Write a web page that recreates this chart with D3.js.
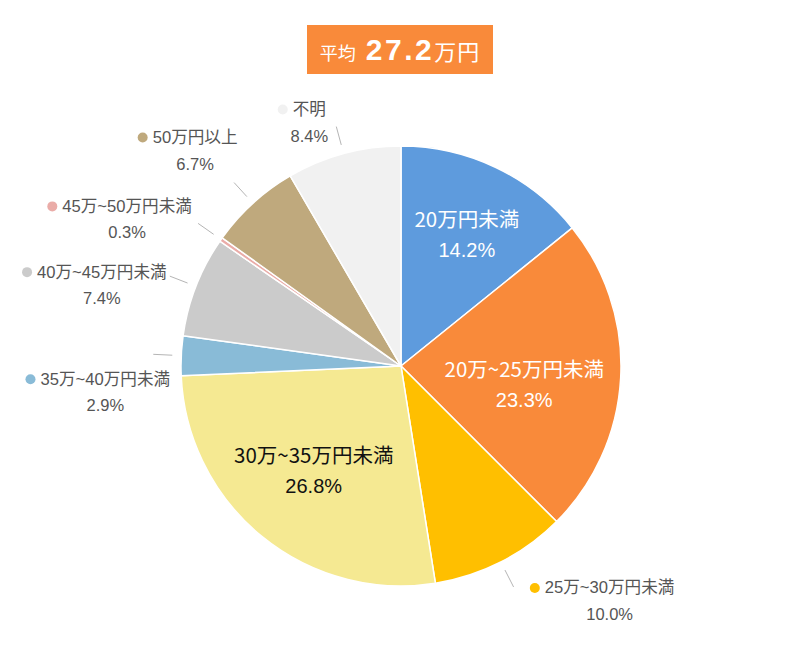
<!DOCTYPE html>
<html><head><meta charset="utf-8">
<script src="https://cdn.jsdelivr.net/npm/d3@7"></script>
<style>
html,body{margin:0;padding:0;background:#fff;}
svg{display:block;font-family:"Noto Sans CJK JP","Noto Sans",sans-serif;}
.lat{font-family:"Liberation Sans","Noto Sans CJK JP",sans-serif;}
</style></head>
<body>
<svg id="chart" width="800" height="647"></svg>
<script>
// ---- data ----
const categories = ["20万円未満","20万~25万円未満","25万~30万円未満","30万~35万円未満","35万~40万円未満","40万~45万円未満","45万~50万円未満","50万円以上","不明"];
const values = [14.2, 23.3, 10.0, 26.8, 2.9, 7.4, 0.3, 6.7, 8.4];
const colors = ["#5e9bdd","#f98a3a","#ffbf00","#f5e992","#89bbd7","#cbcbcb","#eaaca8","#bfa97d","#f1f1f1"];
const titlePrefix = "平均";
const titleValue = "27.2";
const titleUnit = "万円";

// ---- layout (label placement) ----
const insideLabels = {"20万円未満":{dx:7,dy:-9,fill:"#fff"},"20万~25万円未満":{dx:-13,dy:11,fill:"#fff"},"30万~35万円未満":{dx:-1,dy:-2,fill:"#111"}};
const outsideOffsets = {"25万~30万円未満":[96,1],"35万~40万円未満":[-48,25],"40万~45万円未満":[-68,-4],"45万~50万円未満":[-71,-17],"50万円以上":[-39,-45],"不明":[-27,-17]};

const svg = d3.select("#chart");
const cx = 401, cy = 366, R = 220;

const data = categories.map((c,i)=>({cat:c, value:values[i], color:colors[i]}));
const pie = d3.pie().sort(null).value(d=>d.value);
const arcs = pie(data);
const arc = d3.arc().innerRadius(0).outerRadius(R);

const g = svg.append("g").attr("transform",`translate(${cx},${cy})`);
g.selectAll("path.slice").data(arcs).join("path")
  .attr("class","slice")
  .attr("d",arc)
  .attr("fill",d=>d.data.color)
  .attr("stroke","#fff")
  .attr("stroke-width",1.5)
  .attr("stroke-linejoin","round");

const fmt = v => v.toFixed(1) + "%";

// inside labels
const inArc = d3.arc().innerRadius(R*0.62).outerRadius(R*0.62);
arcs.filter(d=>insideLabels[d.data.cat]).forEach(d=>{
  const o = insideLabels[d.data.cat];
  const [x,y] = inArc.centroid(d);
  const t = g.append("g").attr("transform",`translate(${x+o.dx},${y+o.dy})`);
  t.append("text").attr("text-anchor","middle").attr("dominant-baseline","central")
    .attr("y",-16).attr("font-size",20.5).attr("fill",o.fill).text(d.data.cat);
  t.append("text").attr("class","lat").attr("text-anchor","middle").attr("dominant-baseline","central")
    .attr("y",16).attr("font-size",20).attr("fill",o.fill).text(fmt(d.data.value));
});

// outside labels with leader lines
const lineIn = d3.arc().innerRadius(R+9).outerRadius(R+9);
const lineOut = d3.arc().innerRadius(R+28).outerRadius(R+28);
arcs.filter(d=>outsideOffsets[d.data.cat]).forEach(d=>{
  const p1 = lineIn.centroid(d), p2 = lineOut.centroid(d);
  g.append("line").attr("x1",p1[0]).attr("y1",p1[1]).attr("x2",p2[0]).attr("y2",p2[1])
    .attr("stroke","#b5b5b5").attr("stroke-width",1);
  const [ox,oy] = outsideOffsets[d.data.cat];
  const lx = p2[0]+ox, ly = p2[1]+oy;
  const lg = g.append("g").attr("transform",`translate(${lx},${ly})`);
  const nameT = lg.append("text").attr("class","lat").attr("text-anchor","middle").attr("dominant-baseline","central")
    .attr("font-size",16.6).attr("fill","#555").text(d.data.cat);
  const w = nameT.node().getComputedTextLength();
  lg.append("circle").attr("cx",-w/2-10).attr("cy",0).attr("r",5).attr("fill",d.data.color);
  lg.append("text").attr("class","lat").attr("text-anchor","middle").attr("dominant-baseline","central")
    .attr("y",26).attr("font-size",16.5).attr("fill","#555").text(fmt(d.data.value));
});

// title box
const tb = svg.append("g");
tb.append("rect").attr("x",307).attr("y",25).attr("width",186).attr("height",49).attr("fill","#f98a3a");
const tt = tb.append("text").attr("x",400).attr("y",60).attr("text-anchor","middle").attr("fill","#fff");
tt.append("tspan").attr("font-size",18).text(titlePrefix);
tt.append("tspan").attr("class","lat").attr("font-size",30).attr("font-weight","bold").attr("letter-spacing",2.5).attr("dx",10).text(titleValue);
tt.append("tspan").attr("font-size",22).attr("letter-spacing",1).text(titleUnit);
</script>
</body></html>
